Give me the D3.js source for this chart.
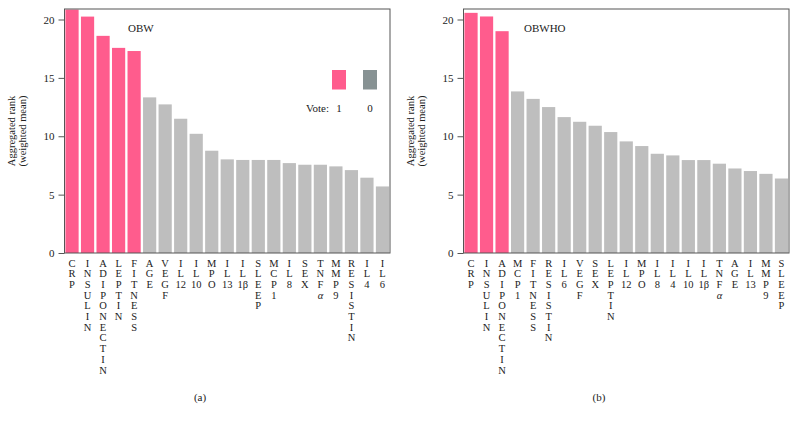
<!DOCTYPE html>
<html><head><meta charset="utf-8">
<script src="https://cdn.jsdelivr.net/npm/d3@7"></script>
<style>body{margin:0;background:#fff}svg text{font-family:"Liberation Serif","DejaVu Serif",serif;fill:#222}</style>
</head><body>
<svg id="c" width="798" height="425"></svg>
<script>
const catsA = ["CRP","INSULIN","ADIPONECTIN","LEPTIN","FITNESS","AGE","VEGF","IL12","IL10","MPO","IL13","IL1β","SLEEP","MCP1","IL8","SEX","TNFα","MMP9","RESISTIN","IL4","IL6"];
const valsA = [20.85,20.25,18.6,17.57,17.3,13.33,12.73,11.5,10.21,8.76,8.02,7.97,7.97,7.97,7.7,7.56,7.56,7.42,7.1,6.45,5.7];
const voteA = [1,1,1,1,1,0,0,0,0,0,0,0,0,0,0,0,0,0,0,0,0];
const catsB = ["CRP","INSULIN","ADIPONECTIN","MCP1","FITNESS","RESISTIN","IL6","VEGF","SEX","LEPTIN","IL12","MPO","IL8","IL4","IL10","IL1β","TNFα","AGE","IL13","MMP9","SLEEP"];
const valsB = [20.57,20.26,19.0,13.84,13.2,12.5,11.64,11.24,10.9,10.36,9.56,9.16,8.5,8.36,7.96,7.96,7.65,7.24,7.02,6.78,6.38];
const voteB = [1,1,1,0,0,0,0,0,0,0,0,0,0,0,0,0,0,0,0,0,0];
const yTicks = [0,5,10,15,20];
const titles = ["OBW","OBWHO"];
const captions = ["(a)","(b)"];
const legendVotes = ["1","0"];

const svg = d3.select("#c");
const colPink = "#ff5c8d", colGray = "#bebebe", colLegGray = "#879293";

function panel(ox, cats, vals, votes, title, caption, showLegend){
  const x0 = ox + 64.5, x1 = ox + 390, yTop = 9, yBot = 253;
  const g = svg.append("g");
  const x = d3.scaleBand().domain(cats).range([x0, x1]).paddingInner(0.15).paddingOuter(0.06);
  const y = d3.scaleLinear().domain([0, 20.9]).range([yBot, yTop]);
  g.selectAll("rect.bar").data(cats).join("rect").attr("class","bar")
    .attr("x", d => x(d)).attr("width", x.bandwidth())
    .attr("y", (d,i) => y(vals[i])).attr("height", (d,i) => yBot - y(vals[i]))
    .attr("fill", (d,i) => votes[i] ? colPink : colGray);
  g.append("rect").attr("x", x0).attr("y", yTop).attr("width", x1 - x0).attr("height", yBot - yTop)
    .attr("fill","none").attr("stroke","#555").attr("stroke-width",1);
  const ax = g.append("g").attr("transform", `translate(${x0},0)`)
    .call(d3.axisLeft(y).tickValues(yTicks).tickSize(6).tickPadding(4));
  ax.select(".domain").remove();
  ax.selectAll("line").attr("stroke","#555");
  ax.selectAll("text").style("font-size","11px").style("font-family","Liberation Serif, serif").attr("fill","#222");
  // y label
  const yl = g.append("text").attr("transform", `translate(${ox+15},131) rotate(-90)`).attr("text-anchor","middle").style("font-size","10.5px");
  yl.append("tspan").attr("x",0).attr("dy",0).text("Aggregated rank");
  yl.append("tspan").attr("x",0).attr("dy","1.05em").text("(weighted mean)");
  // x labels, stacked
  cats.forEach(c => {
    const parts = c.match(/[0-9]+[αβ]?|./g);
    const t = g.append("text").attr("text-anchor","middle").style("font-size","10.5px");
    parts.forEach((p,j) => {
      t.append("tspan").attr("x", x(c) + x.bandwidth()/2).attr("y", 266.5 + j*10.7).text(p)
        .style("font-style", /[αβ]/.test(p) && p.length===1 ? "italic" : null);
    });
  });
  g.append("text").attr("x", ox === 0 ? 128 : ox + 125).attr("y", 32).style("font-size","11px").text(title);
  g.append("text").attr("x", ox + 200).attr("y", 401).attr("text-anchor","middle").style("font-size","11px").text(caption);
  if (showLegend){
    const lx = [339, 370];
    legendVotes.forEach((v,i) => {
      g.append("rect").attr("x", lx[i]-7).attr("y", 70).attr("width", 14).attr("height", 19.5)
        .attr("fill", i===0 ? colPink : colLegGray);
      g.append("text").attr("x", lx[i]).attr("y", 112).attr("text-anchor","middle").style("font-size","11px").text(v);
    });
    g.append("text").attr("x", 306).attr("y", 112).style("font-size","11px").text("Vote:");
  }
}
panel(0, catsA, valsA, voteA, titles[0], captions[0], true);
panel(399, catsB, valsB, voteB, titles[1], captions[1], false);
</script>
</body></html>
